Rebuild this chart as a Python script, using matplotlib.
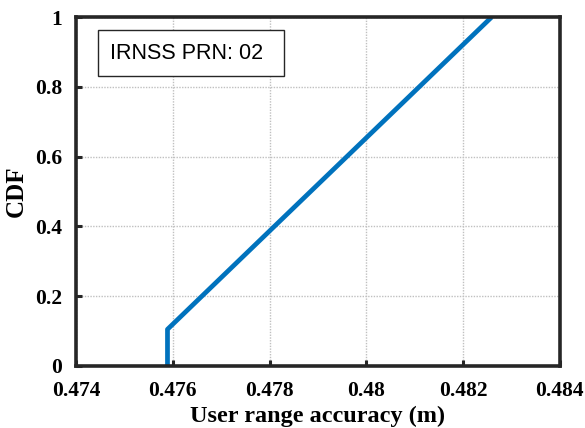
import matplotlib
matplotlib.use('Agg')
import matplotlib.pyplot as plt
from matplotlib.font_manager import FontProperties
from matplotlib.patches import Rectangle

# --------------- CDF data -----------------------------------------
ura = [0.47589, 0.47589, 0.48259]
cdf = [0.0, 0.105, 1.0]
xticks = [0.474, 0.476, 0.478, 0.48, 0.482, 0.484]
yticks = [0, 0.2, 0.4, 0.6, 0.8, 1]
label = 'IRNSS PRN: 02'

fig = plt.figure(figsize=(5.85, 4.28), dpi=100)
ax = fig.add_axes([0.130, 0.145, 0.827, 0.815])

ax.plot(ura, cdf, color='#0072BD', linewidth=3.4, solid_capstyle='butt')

ax.set_xlim(0.474, 0.484)
ax.set_ylim(0, 1)
ax.set_xticks(xticks)
ax.set_yticks(yticks)
ax.set_xticklabels([f'{v:g}' for v in xticks])
ax.set_yticklabels([f'{v:g}' for v in yticks])

tick_font = FontProperties(family='Liberation Serif', weight='bold', size=15.5)
for t in ax.get_xticklabels() + ax.get_yticklabels():
    t.set_fontproperties(tick_font)

ax.tick_params(direction='in', length=4, width=2.2, color='#262626')
ax.tick_params(axis='x', pad=11)
ax.tick_params(axis='y', pad=10)
ax.grid(True, color='#c0c0c0', linestyle=(0, (1, 1)), linewidth=1.0)
for s in ax.spines.values():
    s.set_linewidth(2.6)
    s.set_color('#262626')

ax.set_xlabel('User range accuracy (m)', family='Liberation Serif', weight='bold', size=17.5, labelpad=3)
ax.set_ylabel('CDF', family='Liberation Serif', weight='bold', size=18, labelpad=5)

# legend-like text box (MATLAB annotation)
ax.add_patch(Rectangle((0.0455, 0.831), 0.384, 0.132, transform=ax.transAxes,
                       facecolor='white', edgecolor='#262626', linewidth=1.0, zorder=5))
ax.text(0.070, 0.897, label, transform=ax.transAxes, family='Liberation Sans', size=15.5,
        va='center', ha='left', zorder=6)

fig.savefig('out.png', dpi=100)
